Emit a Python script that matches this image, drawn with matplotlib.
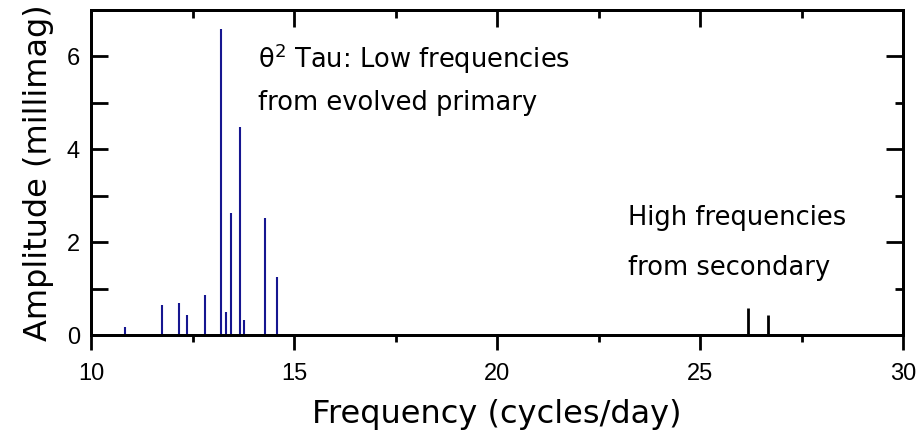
import matplotlib
matplotlib.use("Agg")
import matplotlib.pyplot as plt
from matplotlib.ticker import MultipleLocator, NullFormatter

# Data
primary_freq = [10.84, 11.74, 12.16, 12.37, 12.80, 13.21, 13.32, 13.46, 13.67, 13.78, 14.29, 14.59]
primary_amp = [0.17, 0.64, 0.69, 0.43, 0.86, 6.60, 0.50, 2.63, 4.48, 0.32, 2.51, 1.24]
secondary_freq = [26.17, 26.68]
secondary_amp = [0.59, 0.44]
x_ticks = [10, 15, 20, 25, 30]
y_ticks = [0, 2, 4, 6]

comic = ["DejaVu Sans"]
tickfont = ["Liberation Sans", "DejaVu Sans"]

fig = plt.figure(figsize=(9.24, 4.38), dpi=100)
ax = fig.add_axes([91/924, 1 - 335/438, (903 - 91)/924, (335 - 10)/438])

ax.vlines(primary_freq, 0, primary_amp, color="#161690", linewidth=1.5)
ax.vlines(secondary_freq, 0, secondary_amp, color="black", linewidth=2.0)

ax.set_xlim(10, 30)
ax.set_ylim(0, 7)

for s in ax.spines.values():
    s.set_linewidth(2.0)

ax.xaxis.set_major_locator(MultipleLocator(5))
ax.xaxis.set_minor_locator(MultipleLocator(2.5))
ax.yaxis.set_major_locator(MultipleLocator(2))
ax.yaxis.set_minor_locator(MultipleLocator(1))
ax.tick_params(axis="x", which="major", direction="out", length=11, width=2, bottom=True, top=False, pad=9)
ax.tick_params(axis="x", which="minor", direction="out", length=5, width=2, bottom=True, top=False)
ax.tick_params(axis="y", which="major", direction="in", length=12, width=2, left=True, right=False, pad=8)
ax.tick_params(axis="y", which="minor", direction="in", length=12, width=2, left=True, right=False)
ax.set_xticks(x_ticks)
ax.set_yticks(y_ticks)
ax.set_xticklabels([str(v) for v in x_ticks], family=tickfont, fontsize=17)
ax.set_yticklabels([str(v) for v in y_ticks], family=tickfont, fontsize=17)

# top and right inward ticks
axt = ax.twiny()
axt.set_xlim(ax.get_xlim())
axt.xaxis.set_major_locator(MultipleLocator(5))
axt.xaxis.set_minor_locator(MultipleLocator(2.5))
axt.xaxis.set_major_formatter(NullFormatter())
axt.tick_params(axis="x", which="major", direction="in", length=12, width=2, top=True, bottom=False)
axt.tick_params(axis="x", which="minor", direction="in", length=6, width=2, top=True, bottom=False)
axr = ax.twinx()
axr.set_ylim(ax.get_ylim())
axr.yaxis.set_major_locator(MultipleLocator(2))
axr.yaxis.set_minor_locator(MultipleLocator(1))
axr.yaxis.set_major_formatter(NullFormatter())
axr.tick_params(axis="y", which="major", direction="in", length=12, width=2, right=True, left=False)
axr.tick_params(axis="y", which="minor", direction="in", length=6, width=2, right=True, left=False)
for a in (axt, axr):
    for s in a.spines.values():
        s.set_linewidth(2.0)

ax.set_xlabel("Frequency (cycles/day)", family=comic, fontsize=23, labelpad=10)
ax.set_ylabel("Amplitude (millimag)", family=comic, fontsize=23, labelpad=9)

ax.text(14.11, 5.96, r"θ$^2$ Tau: Low frequencies", family=comic, fontsize=18.5, ha="left", va="center")
ax.text(14.11, 4.99, "from evolved primary", family=comic, fontsize=18.5, ha="left", va="center")
ax.text(23.23, 2.52, "High frequencies", family=comic, fontsize=18.5, ha="left", va="center")
ax.text(23.23, 1.44, "from secondary", family=comic, fontsize=18.5, ha="left", va="center")

fig.savefig("out.png", dpi=100)
